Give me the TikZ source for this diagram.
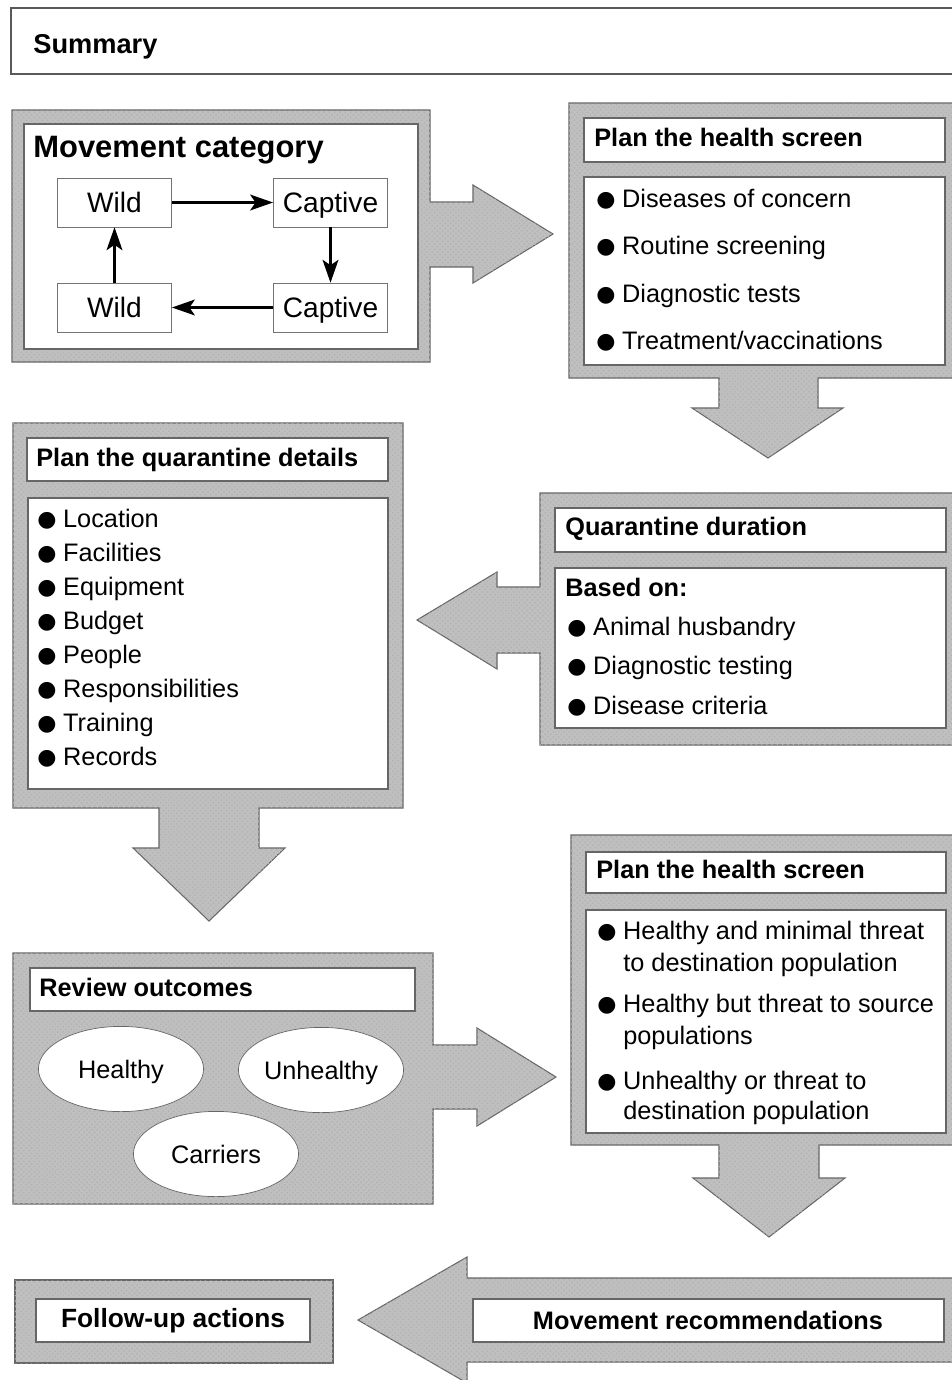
\documentclass[tikz,border=0pt]{standalone}
\usepackage{fontspec}
\setmainfont{Liberation Sans}
\newfontfamily\symfont{DejaVu Sans}
\usetikzlibrary{arrows.meta, shapes.geometric, patterns}
\newcommand{\bul}{\makebox[14.7pt][l]{\raisebox{0.3pt}{\symfont\fontsize{12.5}{12}\selectfont ●}}}

\begin{document}
\begin{tikzpicture}[x=0.02cm, y=-0.02cm, font=\fontsize{14.4}{17.3}\selectfont,
	panel/.style={fill=black!25, draw=black!60, line width=0.6pt,
		postaction={pattern=crosshatch dots, pattern color=black!30}},
	whitebox/.style={fill=white, draw=black!60, line width=0.6pt},
	item/.style={anchor=base west, inner sep=0pt},
	head/.style={anchor=base west, inner sep=0pt, font=\fontsize{14.4}{17.3}\selectfont\bfseries},
	catbox/.style={draw=black!55, fill=white, minimum width=65pt, minimum height=27.8pt,
		inner sep=0pt, text height=14.5pt, text depth=3pt, font=\fontsize{16}{19}\selectfont},
	outcome/.style={ellipse, draw=black!60, fill=white, minimum width=94pt,
		minimum height=48.5pt, inner sep=0pt, text height=13pt, text depth=2.6pt},
	cyc/.style={-{Stealth[length=13pt,width=9pt,inset=3pt]}, line width=1.3pt}]
	\useasboundingbox (0,0) rectangle (951,1380);

	\draw[black!65, line width=0.9pt] (11,8) rectangle (960,74);
	\node[anchor=base west, inner sep=0pt, font=\fontsize{15.5}{18}\selectfont\bfseries] (summary) at (33,53) {Summary};

	% movement category
	\path[panel] (12,110) -- (430,110) -- (430,202) -- (473,202) -- (473,185) -- (553,234)
		-- (473,283) -- (473,267) -- (430,267) -- (430,362) -- (12,362) -- cycle;
	\path[whitebox] (24,124) rectangle (418,349);
	\node[anchor=base west, inner sep=0pt, font=\fontsize{17.6}{21}\selectfont\bfseries] (mvtitle) at (33,157) {Movement category};
	\node[catbox] (wildA) at (114.5,202.5) {Wild};
	\node[catbox] (captA) at (330.5,202.5) {Captive};
	\node[catbox] (captB) at (330.5,307.5) {Captive};
	\node[catbox] (wildB) at (114.5,307.5) {Wild};
	\draw[cyc] (wildA) -- (captA);
	\draw[cyc] (captA) -- (captB);
	\draw[cyc] (captB) -- (wildB);
	\draw[cyc] (wildB) -- (wildA);

	% plan the health screen
	\path[panel] (569,103) -- (956,103) -- (956,378) -- (818,378) -- (818,408) -- (843,408)
		-- (768,458) -- (692,408) -- (719,408) -- (719,378) -- (569,378) -- cycle;
	\path[whitebox] (584,118) rectangle (945,162);
	\node[head] (hsA) at (594,146) {Plan the health screen};
	\path[whitebox] (584,177) rectangle (945,365);
	\foreach \t [count=\i] in {Diseases of concern, Routine screening, Diagnostic tests, Treatment/vaccinations}
		\node[item] (hsA\i) at (596,159.5+47.5*\i) {\bul\t};

	% plan the quarantine details
	\path[panel] (13,423) -- (403,423) -- (403,808) -- (259,808) -- (259,848) -- (285,848)
		-- (209,921) -- (133,848) -- (159,848) -- (159,808) -- (13,808) -- cycle;
	\path[whitebox] (27,438) rectangle (388,481);
	\node[head] (qdA) at (36,466) {Plan the quarantine details};
	\path[whitebox] (28,498) rectangle (388,789);
	\foreach \t [count=\i] in {Location, Facilities, Equipment, Budget, People, Responsibilities, Training, Records}
		\node[item] (qdA\i) at (37,493+34*\i) {\bul\t};

	% quarantine duration
	\path[panel] (540,493) -- (956,493) -- (956,745) -- (540,745) -- (540,653) -- (497,653)
		-- (497,669) -- (417,620) -- (497,572) -- (497,587) -- (540,587) -- cycle;
	\path[whitebox] (555,508) rectangle (946,552);
	\node[head] (durA) at (565,535) {Quarantine duration};
	\path[whitebox] (555,568) rectangle (946,728);
	\node[head] (durB) at (565,596) {Based on:};
	\foreach \t [count=\i] in {Animal husbandry, Diagnostic testing, Disease criteria}
		\node[item] (durB\i) at (567,595.5+39.5*\i) {\bul\t};

	% review outcomes
	\path[panel] (13,953) -- (433,953) -- (433,1045) -- (477,1045) -- (477,1028) -- (556,1077)
		-- (477,1126) -- (477,1109) -- (433,1109) -- (433,1204) -- (13,1204) -- cycle;
	\path[whitebox] (30,968) rectangle (415,1011);
	\node[head] (revA) at (39,996) {Review outcomes};
	\node[outcome] (healthy) at (121,1069) {Healthy};
	\node[outcome] (unhealthy) at (321,1070) {Unhealthy};
	\node[outcome] (carriers) at (216,1154) {Carriers};

	% plan the health screen (outcomes)
	\path[panel] (571,835) -- (956,835) -- (956,1145) -- (819,1145) -- (819,1178) -- (845,1178)
		-- (769,1237) -- (693,1178) -- (719,1178) -- (719,1145) -- (571,1145) -- cycle;
	\path[whitebox] (586,852) rectangle (946,893);
	\node[head] (hsB) at (596,878) {Plan the health screen};
	\path[whitebox] (586,910) rectangle (946,1133);
	\node[item] (hsB1) at (597,939) {\bul Healthy and minimal threat};
	\node[item] (hsB1b) at (623,971) {to destination population};
	\node[item] (hsB2) at (597,1012) {\bul Healthy but threat to source};
	\node[item] (hsB2b) at (623,1044) {populations};
	\node[item] (hsB3) at (597,1089) {\bul Unhealthy or threat to};
	\node[item] (hsB3b) at (623,1119) {destination population};

	% follow-up
	\path[panel] (15,1280) rectangle (333,1363);
	\path[whitebox] (36,1299) rectangle (310,1342);
	\node[font=\fontsize{15}{18}\selectfont\bfseries] (follow) at (173,1320.5) {Follow-up actions};
	\path[panel] (358,1320) -- (467,1257) -- (467,1278) -- (956,1278) -- (956,1362) -- (467,1362)
		-- (467,1383) -- cycle;
	\path[whitebox] (473,1299) rectangle (944,1342);
	\node[font=\fontsize{14.4}{17.3}\selectfont\bfseries] (recommend) at (708,1320.5) {Movement recommendations};
\end{tikzpicture}
\end{document}
